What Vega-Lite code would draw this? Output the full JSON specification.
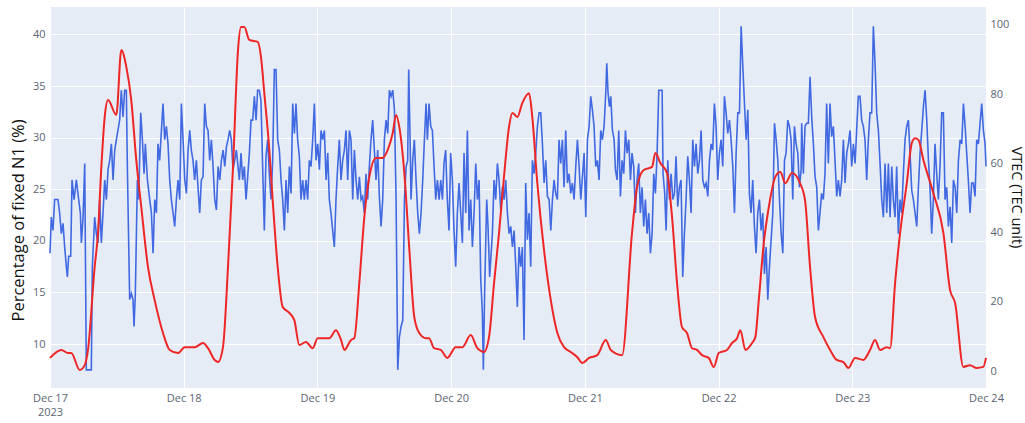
{
"$schema": "https://vega.github.io/schema/vega-lite/v6.json",
"width": 936, "height": 381,
"autosize": {"type": "none"},
"padding": {"left": 50, "top": 7, "right": 39, "bottom": 35},
"background": "white",
"config": {
 "view": {"stroke": null, "fill": "#E5ECF6"},
 "axis": {"domain": false, "ticks": false, "gridColor": "white", "gridWidth": 1, "labelFont": "Open Sans", "labelFontSize": 11, "labelColor": "#5b6472", "titleFont": "Open Sans", "titleFontWeight": "normal", "titleColor": "#111111"}
},
"datasets": {
"pct": [
{"t":"2023-12-17T00:00","v":18.8},{"t":"2023-12-17T00:14","v":22.3},{"t":"2023-12-17T00:32","v":21.0},{"t":"2023-12-17T00:50","v":24.0},{"t":"2023-12-17T01:26","v":24.0},{"t":"2023-12-17T01:44","v":22.7},{"t":"2023-12-17T02:02","v":20.7},{"t":"2023-12-17T02:20","v":21.7},{"t":"2023-12-17T02:38","v":19.4},{"t":"2023-12-17T02:56","v":17.5},{"t":"2023-12-17T03:07","v":16.5},{"t":"2023-12-17T03:21","v":18.5},{"t":"2023-12-17T03:43","v":18.5},{"t":"2023-12-17T03:57","v":25.9},{"t":"2023-12-17T04:19","v":24.0},{"t":"2023-12-17T04:44","v":25.9},{"t":"2023-12-17T05:09","v":24.0},{"t":"2023-12-17T05:27","v":22.7},{"t":"2023-12-17T05:38","v":19.8},{"t":"2023-12-17T05:56","v":22.3},{"t":"2023-12-17T06:14","v":27.5},{"t":"2023-12-17T06:31","v":7.5},{"t":"2023-12-17T07:25","v":7.5},{"t":"2023-12-17T07:36","v":17.5},{"t":"2023-12-17T08:01","v":22.3},{"t":"2023-12-17T08:19","v":20.7},{"t":"2023-12-17T08:37","v":19.8},{"t":"2023-12-17T08:55","v":24.0},{"t":"2023-12-17T09:13","v":19.8},{"t":"2023-12-17T09:31","v":22.7},{"t":"2023-12-17T09:49","v":25.9},{"t":"2023-12-17T10:07","v":24.0},{"t":"2023-12-17T10:25","v":26.9},{"t":"2023-12-17T10:43","v":27.8},{"t":"2023-12-17T11:01","v":29.4},{"t":"2023-12-17T11:19","v":25.9},{"t":"2023-12-17T11:37","v":28.8},{"t":"2023-12-17T11:55","v":29.8},{"t":"2023-12-17T12:30","v":31.7},{"t":"2023-12-17T12:48","v":34.6},{"t":"2023-12-17T13:06","v":32.0},{"t":"2023-12-17T13:24","v":34.6},{"t":"2023-12-17T13:42","v":34.6},{"t":"2023-12-17T13:53","v":27.2},{"t":"2023-12-17T14:18","v":14.3},{"t":"2023-12-17T14:36","v":14.9},{"t":"2023-12-17T14:54","v":14.3},{"t":"2023-12-17T15:05","v":11.7},{"t":"2023-12-17T15:19","v":14.9},{"t":"2023-12-17T15:41","v":25.9},{"t":"2023-12-17T15:55","v":24.0},{"t":"2023-12-17T16:17","v":32.4},{"t":"2023-12-17T16:35","v":29.8},{"t":"2023-12-17T16:53","v":26.5},{"t":"2023-12-17T17:07","v":29.4},{"t":"2023-12-17T17:29","v":25.9},{"t":"2023-12-17T17:54","v":24.0},{"t":"2023-12-17T18:12","v":22.7},{"t":"2023-12-17T18:30","v":18.8},{"t":"2023-12-17T18:48","v":24.0},{"t":"2023-12-17T19:06","v":22.7},{"t":"2023-12-17T19:23","v":29.4},{"t":"2023-12-17T19:41","v":27.8},{"t":"2023-12-17T20:17","v":33.3},{"t":"2023-12-17T20:35","v":29.8},{"t":"2023-12-17T20:53","v":31.1},{"t":"2023-12-17T21:11","v":29.4},{"t":"2023-12-17T21:29","v":25.9},{"t":"2023-12-17T21:47","v":24.0},{"t":"2023-12-17T22:05","v":22.7},{"t":"2023-12-17T22:23","v":21.4},{"t":"2023-12-17T22:41","v":24.0},{"t":"2023-12-17T22:59","v":25.9},{"t":"2023-12-17T23:17","v":24.0},{"t":"2023-12-17T23:35","v":33.3},{"t":"2023-12-17T23:53","v":29.8},
{"t":"2023-12-18T00:11","v":25.9},{"t":"2023-12-18T00:29","v":24.6},{"t":"2023-12-18T00:47","v":28.8},{"t":"2023-12-18T01:05","v":30.7},{"t":"2023-12-18T01:22","v":28.8},{"t":"2023-12-18T01:40","v":27.8},{"t":"2023-12-18T01:58","v":25.9},{"t":"2023-12-18T02:16","v":27.8},{"t":"2023-12-18T02:34","v":25.2},{"t":"2023-12-18T02:52","v":22.7},{"t":"2023-12-18T03:10","v":25.9},{"t":"2023-12-18T03:28","v":26.2},{"t":"2023-12-18T03:46","v":33.3},{"t":"2023-12-18T04:04","v":31.1},{"t":"2023-12-18T04:22","v":30.7},{"t":"2023-12-18T04:40","v":27.8},{"t":"2023-12-18T04:58","v":29.8},{"t":"2023-12-18T05:16","v":27.2},{"t":"2023-12-18T05:34","v":24.0},{"t":"2023-12-18T05:52","v":23.0},{"t":"2023-12-18T06:10","v":27.2},{"t":"2023-12-18T06:28","v":25.9},{"t":"2023-12-18T06:46","v":27.8},{"t":"2023-12-18T07:04","v":28.8},{"t":"2023-12-18T07:22","v":27.2},{"t":"2023-12-18T07:40","v":29.1},{"t":"2023-12-18T07:57","v":29.8},{"t":"2023-12-18T08:15","v":30.7},{"t":"2023-12-18T08:33","v":29.8},{"t":"2023-12-18T08:51","v":26.9},{"t":"2023-12-18T09:09","v":27.8},{"t":"2023-12-18T09:27","v":28.8},{"t":"2023-12-18T09:41","v":27.5},{"t":"2023-12-18T09:59","v":25.9},{"t":"2023-12-18T10:17","v":28.5},{"t":"2023-12-18T10:35","v":25.9},{"t":"2023-12-18T10:53","v":27.2},{"t":"2023-12-18T11:11","v":24.0},{"t":"2023-12-18T11:29","v":26.2},{"t":"2023-12-18T11:47","v":28.5},{"t":"2023-12-18T12:05","v":31.7},{"t":"2023-12-18T12:23","v":31.7},{"t":"2023-12-18T12:41","v":34.0},{"t":"2023-12-18T12:59","v":31.7},{"t":"2023-12-18T13:16","v":34.6},{"t":"2023-12-18T13:34","v":34.6},{"t":"2023-12-18T13:52","v":33.6},{"t":"2023-12-18T14:10","v":27.2},{"t":"2023-12-18T14:28","v":21.0},{"t":"2023-12-18T14:46","v":28.2},{"t":"2023-12-18T15:04","v":29.8},{"t":"2023-12-18T15:22","v":26.5},{"t":"2023-12-18T15:40","v":24.0},{"t":"2023-12-18T15:58","v":27.8},{"t":"2023-12-18T16:16","v":36.6},{"t":"2023-12-18T16:34","v":36.6},{"t":"2023-12-18T16:52","v":29.8},{"t":"2023-12-18T17:10","v":28.8},{"t":"2023-12-18T17:28","v":25.9},{"t":"2023-12-18T17:46","v":24.0},{"t":"2023-12-18T18:04","v":21.0},{"t":"2023-12-18T18:22","v":25.9},{"t":"2023-12-18T18:40","v":22.7},{"t":"2023-12-18T18:58","v":27.2},{"t":"2023-12-18T19:16","v":24.6},{"t":"2023-12-18T19:34","v":33.3},{"t":"2023-12-18T19:52","v":30.4},{"t":"2023-12-18T20:09","v":33.3},{"t":"2023-12-18T20:27","v":29.8},{"t":"2023-12-18T20:45","v":28.2},{"t":"2023-12-18T21:03","v":24.0},{"t":"2023-12-18T21:21","v":25.9},{"t":"2023-12-18T21:39","v":24.0},{"t":"2023-12-18T21:57","v":25.9},{"t":"2023-12-18T22:15","v":24.0},{"t":"2023-12-18T22:33","v":27.8},{"t":"2023-12-18T22:51","v":27.2},{"t":"2023-12-18T23:09","v":29.8},{"t":"2023-12-18T23:27","v":33.3},{"t":"2023-12-18T23:45","v":27.8},
{"t":"2023-12-19T00:03","v":29.4},{"t":"2023-12-19T00:21","v":26.9},{"t":"2023-12-19T00:39","v":30.7},{"t":"2023-12-19T00:57","v":29.8},{"t":"2023-12-19T01:15","v":30.7},{"t":"2023-12-19T01:33","v":25.9},{"t":"2023-12-19T01:51","v":28.5},{"t":"2023-12-19T02:08","v":24.0},{"t":"2023-12-19T02:26","v":22.7},{"t":"2023-12-19T02:44","v":21.0},{"t":"2023-12-19T03:02","v":19.4},{"t":"2023-12-19T03:20","v":24.0},{"t":"2023-12-19T03:38","v":27.2},{"t":"2023-12-19T03:56","v":29.8},{"t":"2023-12-19T04:14","v":25.9},{"t":"2023-12-19T04:32","v":27.8},{"t":"2023-12-19T04:50","v":28.8},{"t":"2023-12-19T05:08","v":30.7},{"t":"2023-12-19T05:26","v":25.9},{"t":"2023-12-19T05:44","v":30.7},{"t":"2023-12-19T06:02","v":29.8},{"t":"2023-12-19T06:20","v":24.0},{"t":"2023-12-19T06:38","v":28.8},{"t":"2023-12-19T06:56","v":25.9},{"t":"2023-12-19T07:14","v":24.0},{"t":"2023-12-19T07:32","v":26.2},{"t":"2023-12-19T07:50","v":24.0},{"t":"2023-12-19T08:07","v":24.3},{"t":"2023-12-19T08:25","v":22.7},{"t":"2023-12-19T08:43","v":26.5},{"t":"2023-12-19T09:01","v":24.0},{"t":"2023-12-19T09:19","v":27.2},{"t":"2023-12-19T09:37","v":29.8},{"t":"2023-12-19T09:55","v":31.7},{"t":"2023-12-19T10:13","v":28.8},{"t":"2023-12-19T10:31","v":25.9},{"t":"2023-12-19T10:49","v":28.8},{"t":"2023-12-19T11:07","v":24.3},{"t":"2023-12-19T11:25","v":21.4},{"t":"2023-12-19T11:43","v":24.0},{"t":"2023-12-19T12:01","v":29.8},{"t":"2023-12-19T12:19","v":31.7},{"t":"2023-12-19T12:37","v":30.4},{"t":"2023-12-19T12:55","v":34.6},{"t":"2023-12-19T13:13","v":34.0},{"t":"2023-12-19T13:31","v":34.6},{"t":"2023-12-19T13:49","v":32.7},{"t":"2023-12-19T14:07","v":24.0},{"t":"2023-12-19T14:25","v":7.5},{"t":"2023-12-19T14:43","v":10.7},{"t":"2023-12-19T15:01","v":11.7},{"t":"2023-12-19T15:19","v":12.3},{"t":"2023-12-19T15:37","v":24.0},{"t":"2023-12-19T15:55","v":27.2},{"t":"2023-12-19T16:12","v":27.8},{"t":"2023-12-19T16:23","v":36.6},{"t":"2023-12-19T16:38","v":29.8},{"t":"2023-12-19T16:48","v":24.0},{"t":"2023-12-19T17:06","v":27.8},{"t":"2023-12-19T17:24","v":29.8},{"t":"2023-12-19T17:42","v":25.9},{"t":"2023-12-19T18:00","v":22.7},{"t":"2023-12-19T18:18","v":20.7},{"t":"2023-12-19T18:36","v":22.7},{"t":"2023-12-19T18:54","v":25.9},{"t":"2023-12-19T19:12","v":29.8},{"t":"2023-12-19T19:30","v":33.3},{"t":"2023-12-19T19:44","v":29.8},{"t":"2023-12-19T20:02","v":33.3},{"t":"2023-12-19T20:20","v":31.1},{"t":"2023-12-19T20:38","v":30.7},{"t":"2023-12-19T20:56","v":27.2},{"t":"2023-12-19T21:14","v":24.0},{"t":"2023-12-19T21:32","v":25.9},{"t":"2023-12-19T21:50","v":24.0},{"t":"2023-12-19T22:08","v":25.9},{"t":"2023-12-19T22:26","v":24.0},{"t":"2023-12-19T22:43","v":27.5},{"t":"2023-12-19T23:01","v":28.8},{"t":"2023-12-19T23:19","v":24.0},{"t":"2023-12-19T23:37","v":21.0},{"t":"2023-12-19T23:55","v":28.5},
{"t":"2023-12-20T00:13","v":25.9},{"t":"2023-12-20T00:31","v":21.0},{"t":"2023-12-20T00:49","v":17.5},{"t":"2023-12-20T01:07","v":22.7},{"t":"2023-12-20T01:25","v":25.6},{"t":"2023-12-20T01:43","v":22.7},{"t":"2023-12-20T02:01","v":19.8},{"t":"2023-12-20T02:19","v":28.5},{"t":"2023-12-20T02:37","v":22.7},{"t":"2023-12-20T02:55","v":30.7},{"t":"2023-12-20T03:13","v":21.0},{"t":"2023-12-20T03:31","v":24.0},{"t":"2023-12-20T03:49","v":19.4},{"t":"2023-12-20T04:07","v":22.7},{"t":"2023-12-20T04:25","v":27.5},{"t":"2023-12-20T04:43","v":24.0},{"t":"2023-12-20T05:01","v":25.9},{"t":"2023-12-20T05:18","v":16.5},{"t":"2023-12-20T05:36","v":13.0},{"t":"2023-12-20T05:47","v":7.5},{"t":"2023-12-20T06:02","v":15.6},{"t":"2023-12-20T06:23","v":24.0},{"t":"2023-12-20T06:37","v":21.4},{"t":"2023-12-20T06:55","v":16.5},{"t":"2023-12-20T07:24","v":20.7},{"t":"2023-12-20T07:42","v":25.9},{"t":"2023-12-20T08:00","v":24.0},{"t":"2023-12-20T08:18","v":27.5},{"t":"2023-12-20T08:36","v":25.9},{"t":"2023-12-20T08:54","v":23.0},{"t":"2023-12-20T09:12","v":25.2},{"t":"2023-12-20T09:30","v":24.0},{"t":"2023-12-20T09:48","v":25.9},{"t":"2023-12-20T10:06","v":22.7},{"t":"2023-12-20T10:24","v":20.7},{"t":"2023-12-20T10:42","v":21.4},{"t":"2023-12-20T11:00","v":19.4},{"t":"2023-12-20T11:18","v":21.0},{"t":"2023-12-20T11:36","v":17.5},{"t":"2023-12-20T11:53","v":13.6},{"t":"2023-12-20T12:11","v":19.4},{"t":"2023-12-20T12:29","v":17.5},{"t":"2023-12-20T12:47","v":19.4},{"t":"2023-12-20T13:05","v":10.4},{"t":"2023-12-20T13:23","v":25.6},{"t":"2023-12-20T13:41","v":20.1},{"t":"2023-12-20T13:59","v":22.7},{"t":"2023-12-20T14:17","v":17.5},{"t":"2023-12-20T14:35","v":27.8},{"t":"2023-12-20T14:53","v":26.5},{"t":"2023-12-20T15:11","v":28.5},{"t":"2023-12-20T15:29","v":31.1},{"t":"2023-12-20T15:47","v":32.4},{"t":"2023-12-20T16:05","v":32.4},{"t":"2023-12-20T16:23","v":29.4},{"t":"2023-12-20T16:41","v":25.6},{"t":"2023-12-20T16:59","v":27.8},{"t":"2023-12-20T17:17","v":24.3},{"t":"2023-12-20T17:35","v":24.0},{"t":"2023-12-20T17:53","v":21.0},{"t":"2023-12-20T18:11","v":24.0},{"t":"2023-12-20T18:28","v":25.9},{"t":"2023-12-20T18:46","v":24.6},{"t":"2023-12-20T19:04","v":24.0},{"t":"2023-12-20T19:22","v":29.8},{"t":"2023-12-20T19:40","v":27.5},{"t":"2023-12-20T19:58","v":29.8},{"t":"2023-12-20T20:16","v":25.2},{"t":"2023-12-20T20:34","v":30.7},{"t":"2023-12-20T20:52","v":25.6},{"t":"2023-12-20T21:10","v":26.5},{"t":"2023-12-20T21:28","v":24.6},{"t":"2023-12-20T21:46","v":25.6},{"t":"2023-12-20T22:04","v":24.0},{"t":"2023-12-20T22:22","v":27.2},{"t":"2023-12-20T22:40","v":29.8},{"t":"2023-12-20T22:58","v":27.2},{"t":"2023-12-20T23:16","v":24.0},{"t":"2023-12-20T23:34","v":26.2},{"t":"2023-12-20T23:52","v":28.5},
{"t":"2023-12-21T00:10","v":22.3},{"t":"2023-12-21T00:28","v":29.8},{"t":"2023-12-21T00:46","v":31.1},{"t":"2023-12-21T01:03","v":34.0},{"t":"2023-12-21T01:21","v":32.7},{"t":"2023-12-21T01:39","v":31.1},{"t":"2023-12-21T01:57","v":27.2},{"t":"2023-12-21T02:15","v":27.8},{"t":"2023-12-21T02:33","v":25.9},{"t":"2023-12-21T02:51","v":30.7},{"t":"2023-12-21T03:09","v":29.8},{"t":"2023-12-21T03:27","v":31.1},{"t":"2023-12-21T03:45","v":34.3},{"t":"2023-12-21T03:56","v":37.2},{"t":"2023-12-21T04:10","v":34.3},{"t":"2023-12-21T04:25","v":33.0},{"t":"2023-12-21T04:39","v":34.0},{"t":"2023-12-21T04:57","v":30.7},{"t":"2023-12-21T05:15","v":29.8},{"t":"2023-12-21T05:29","v":26.9},{"t":"2023-12-21T05:47","v":25.9},{"t":"2023-12-21T06:05","v":30.7},{"t":"2023-12-21T06:23","v":24.3},{"t":"2023-12-21T06:41","v":27.8},{"t":"2023-12-21T06:59","v":26.5},{"t":"2023-12-21T07:17","v":30.7},{"t":"2023-12-21T07:35","v":28.5},{"t":"2023-12-21T07:53","v":29.8},{"t":"2023-12-21T08:11","v":25.9},{"t":"2023-12-21T08:28","v":28.5},{"t":"2023-12-21T08:46","v":27.2},{"t":"2023-12-21T09:04","v":22.7},{"t":"2023-12-21T09:22","v":25.9},{"t":"2023-12-21T09:40","v":27.5},{"t":"2023-12-21T09:58","v":22.7},{"t":"2023-12-21T10:16","v":25.2},{"t":"2023-12-21T10:34","v":21.4},{"t":"2023-12-21T10:52","v":24.0},{"t":"2023-12-21T11:10","v":20.7},{"t":"2023-12-21T11:28","v":22.7},{"t":"2023-12-21T11:46","v":18.8},{"t":"2023-12-21T12:04","v":20.7},{"t":"2023-12-21T12:22","v":26.5},{"t":"2023-12-21T12:40","v":24.6},{"t":"2023-12-21T12:58","v":28.5},{"t":"2023-12-21T13:16","v":34.6},{"t":"2023-12-21T13:34","v":34.6},{"t":"2023-12-21T13:52","v":34.6},{"t":"2023-12-21T14:02","v":26.5},{"t":"2023-12-21T14:20","v":24.6},{"t":"2023-12-21T14:35","v":21.0},{"t":"2023-12-21T14:53","v":27.8},{"t":"2023-12-21T15:11","v":24.0},{"t":"2023-12-21T15:29","v":26.5},{"t":"2023-12-21T15:47","v":24.0},{"t":"2023-12-21T16:05","v":24.6},{"t":"2023-12-21T16:22","v":28.2},{"t":"2023-12-21T16:40","v":23.3},{"t":"2023-12-21T16:58","v":25.2},{"t":"2023-12-21T17:16","v":25.9},{"t":"2023-12-21T17:34","v":16.5},{"t":"2023-12-21T17:52","v":20.7},{"t":"2023-12-21T18:10","v":24.0},{"t":"2023-12-21T18:28","v":28.2},{"t":"2023-12-21T18:46","v":25.9},{"t":"2023-12-21T19:04","v":22.7},{"t":"2023-12-21T19:22","v":29.8},{"t":"2023-12-21T19:40","v":27.2},{"t":"2023-12-21T19:58","v":29.4},{"t":"2023-12-21T20:16","v":26.5},{"t":"2023-12-21T20:34","v":27.8},{"t":"2023-12-21T20:52","v":30.7},{"t":"2023-12-21T21:10","v":25.9},{"t":"2023-12-21T21:28","v":25.2},{"t":"2023-12-21T21:46","v":25.6},{"t":"2023-12-21T22:04","v":24.3},{"t":"2023-12-21T22:22","v":27.8},{"t":"2023-12-21T22:40","v":29.4},{"t":"2023-12-21T22:57","v":28.8},{"t":"2023-12-21T23:15","v":33.3},{"t":"2023-12-21T23:33","v":31.1},{"t":"2023-12-21T23:51","v":25.9},
{"t":"2023-12-22T00:09","v":28.5},{"t":"2023-12-22T00:27","v":29.8},{"t":"2023-12-22T00:45","v":27.2},{"t":"2023-12-22T01:03","v":34.0},{"t":"2023-12-22T01:21","v":32.4},{"t":"2023-12-22T01:39","v":30.4},{"t":"2023-12-22T01:57","v":31.7},{"t":"2023-12-22T02:15","v":29.8},{"t":"2023-12-22T02:33","v":27.2},{"t":"2023-12-22T02:51","v":22.7},{"t":"2023-12-22T03:09","v":28.5},{"t":"2023-12-22T03:27","v":32.4},{"t":"2023-12-22T03:45","v":32.4},{"t":"2023-12-22T04:03","v":40.8},{"t":"2023-12-22T04:21","v":36.9},{"t":"2023-12-22T04:39","v":33.3},{"t":"2023-12-22T04:57","v":29.8},{"t":"2023-12-22T05:15","v":32.7},{"t":"2023-12-22T05:32","v":24.6},{"t":"2023-12-22T05:50","v":22.7},{"t":"2023-12-22T06:08","v":25.9},{"t":"2023-12-22T06:26","v":21.4},{"t":"2023-12-22T06:44","v":18.8},{"t":"2023-12-22T07:02","v":22.7},{"t":"2023-12-22T07:20","v":24.0},{"t":"2023-12-22T07:38","v":21.0},{"t":"2023-12-22T07:56","v":22.7},{"t":"2023-12-22T08:14","v":16.8},{"t":"2023-12-22T08:32","v":19.4},{"t":"2023-12-22T08:50","v":14.3},{"t":"2023-12-22T09:08","v":17.5},{"t":"2023-12-22T09:26","v":20.1},{"t":"2023-12-22T09:44","v":22.7},{"t":"2023-12-22T10:02","v":31.4},{"t":"2023-12-22T10:20","v":29.8},{"t":"2023-12-22T10:38","v":27.8},{"t":"2023-12-22T10:56","v":24.0},{"t":"2023-12-22T11:14","v":20.7},{"t":"2023-12-22T11:32","v":18.8},{"t":"2023-12-22T11:50","v":27.8},{"t":"2023-12-22T12:07","v":28.5},{"t":"2023-12-22T12:25","v":31.7},{"t":"2023-12-22T12:43","v":31.1},{"t":"2023-12-22T13:01","v":29.8},{"t":"2023-12-22T13:19","v":24.0},{"t":"2023-12-22T13:37","v":31.1},{"t":"2023-12-22T13:55","v":29.4},{"t":"2023-12-22T14:13","v":28.5},{"t":"2023-12-22T14:31","v":25.2},{"t":"2023-12-22T14:49","v":26.9},{"t":"2023-12-22T14:55","v":31.4},{"t":"2023-12-22T15:13","v":26.5},{"t":"2023-12-22T15:31","v":31.1},{"t":"2023-12-22T15:49","v":31.4},{"t":"2023-12-22T16:07","v":31.4},{"t":"2023-12-22T16:25","v":35.9},{"t":"2023-12-22T16:43","v":32.0},{"t":"2023-12-22T17:01","v":29.4},{"t":"2023-12-22T17:19","v":26.2},{"t":"2023-12-22T17:37","v":25.2},{"t":"2023-12-22T17:55","v":21.0},{"t":"2023-12-22T18:12","v":22.7},{"t":"2023-12-22T18:30","v":24.6},{"t":"2023-12-22T18:48","v":24.0},{"t":"2023-12-22T19:06","v":26.5},{"t":"2023-12-22T19:24","v":33.3},{"t":"2023-12-22T19:42","v":27.5},{"t":"2023-12-22T20:00","v":33.3},{"t":"2023-12-22T20:18","v":30.1},{"t":"2023-12-22T20:36","v":31.1},{"t":"2023-12-22T20:54","v":27.8},{"t":"2023-12-22T21:12","v":24.3},{"t":"2023-12-22T21:30","v":25.9},{"t":"2023-12-22T21:48","v":24.3},{"t":"2023-12-22T22:06","v":25.9},{"t":"2023-12-22T22:24","v":29.8},{"t":"2023-12-22T22:42","v":25.6},{"t":"2023-12-22T23:00","v":28.5},{"t":"2023-12-22T23:18","v":29.4},{"t":"2023-12-22T23:36","v":30.7},{"t":"2023-12-22T23:54","v":27.2},
{"t":"2023-12-23T00:12","v":29.4},{"t":"2023-12-23T00:30","v":27.5},{"t":"2023-12-23T00:47","v":30.7},{"t":"2023-12-23T01:05","v":34.0},{"t":"2023-12-23T01:23","v":34.0},{"t":"2023-12-23T01:41","v":31.7},{"t":"2023-12-23T01:59","v":31.1},{"t":"2023-12-23T02:17","v":29.8},{"t":"2023-12-23T02:35","v":25.9},{"t":"2023-12-23T02:53","v":29.8},{"t":"2023-12-23T03:11","v":32.4},{"t":"2023-12-23T03:29","v":32.4},{"t":"2023-12-23T03:47","v":40.8},{"t":"2023-12-23T04:05","v":37.2},{"t":"2023-12-23T04:23","v":32.4},{"t":"2023-12-23T04:41","v":30.7},{"t":"2023-12-23T04:59","v":27.5},{"t":"2023-12-23T05:17","v":24.0},{"t":"2023-12-23T05:35","v":22.3},{"t":"2023-12-23T05:53","v":27.5},{"t":"2023-12-23T06:11","v":22.7},{"t":"2023-12-23T06:29","v":27.5},{"t":"2023-12-23T06:47","v":22.3},{"t":"2023-12-23T07:05","v":27.2},{"t":"2023-12-23T07:22","v":24.0},{"t":"2023-12-23T07:40","v":22.3},{"t":"2023-12-23T07:58","v":27.2},{"t":"2023-12-23T08:16","v":20.7},{"t":"2023-12-23T08:34","v":24.0},{"t":"2023-12-23T08:52","v":22.7},{"t":"2023-12-23T09:10","v":26.5},{"t":"2023-12-23T09:28","v":29.8},{"t":"2023-12-23T09:46","v":31.1},{"t":"2023-12-23T10:04","v":31.7},{"t":"2023-12-23T10:22","v":28.5},{"t":"2023-12-23T10:40","v":24.9},{"t":"2023-12-23T10:58","v":24.0},{"t":"2023-12-23T11:16","v":22.7},{"t":"2023-12-23T11:34","v":21.4},{"t":"2023-12-23T11:52","v":25.2},{"t":"2023-12-23T12:10","v":28.5},{"t":"2023-12-23T12:28","v":30.7},{"t":"2023-12-23T12:46","v":33.0},{"t":"2023-12-23T13:04","v":34.6},{"t":"2023-12-23T13:22","v":31.7},{"t":"2023-12-23T13:40","v":27.8},{"t":"2023-12-23T13:57","v":25.2},{"t":"2023-12-23T14:15","v":20.7},{"t":"2023-12-23T14:33","v":24.0},{"t":"2023-12-23T14:51","v":29.4},{"t":"2023-12-23T15:09","v":26.5},{"t":"2023-12-23T15:27","v":24.0},{"t":"2023-12-23T15:45","v":27.2},{"t":"2023-12-23T16:03","v":32.4},{"t":"2023-12-23T16:21","v":32.4},{"t":"2023-12-23T16:39","v":24.0},{"t":"2023-12-23T16:57","v":25.2},{"t":"2023-12-23T17:15","v":21.4},{"t":"2023-12-23T17:33","v":23.3},{"t":"2023-12-23T17:51","v":19.8},{"t":"2023-12-23T18:09","v":25.9},{"t":"2023-12-23T18:27","v":25.2},{"t":"2023-12-23T18:45","v":22.7},{"t":"2023-12-23T19:03","v":27.8},{"t":"2023-12-23T19:21","v":29.8},{"t":"2023-12-23T19:39","v":29.4},{"t":"2023-12-23T19:57","v":33.3},{"t":"2023-12-23T20:15","v":31.1},{"t":"2023-12-23T20:32","v":28.5},{"t":"2023-12-23T20:50","v":25.9},{"t":"2023-12-23T21:08","v":22.7},{"t":"2023-12-23T21:26","v":25.6},{"t":"2023-12-23T21:44","v":25.6},{"t":"2023-12-23T22:02","v":24.3},{"t":"2023-12-23T22:20","v":29.8},{"t":"2023-12-23T22:38","v":29.4},{"t":"2023-12-23T22:56","v":31.4},{"t":"2023-12-23T23:14","v":33.3},{"t":"2023-12-23T23:32","v":30.7},{"t":"2023-12-23T23:50","v":29.4},{"t":"2023-12-24T00:00","v":27.2}
],
"vtec": [
{"t":"2023-12-17T00:00","v":3.8},{"t":"2023-12-17T02:02","v":6.1},{"t":"2023-12-17T03:14","v":5.2},{"t":"2023-12-17T03:49","v":5.2},{"t":"2023-12-17T05:20","v":0.3},{"t":"2023-12-17T06:14","v":1.7},{"t":"2023-12-17T06:49","v":6.1},{"t":"2023-12-17T08:01","v":30.1},{"t":"2023-12-17T08:37","v":39.9},{"t":"2023-12-17T09:13","v":59.0},{"t":"2023-12-17T09:49","v":73.4},{"t":"2023-12-17T10:25","v":78.3},{"t":"2023-12-17T11:54","v":74.0},{"t":"2023-12-17T12:48","v":92.8},{"t":"2023-12-17T13:42","v":87.9},{"t":"2023-12-17T14:35","v":78.3},{"t":"2023-12-17T15:29","v":61.0},{"t":"2023-12-17T16:23","v":47.4},{"t":"2023-12-17T17:35","v":30.1},{"t":"2023-12-17T18:47","v":20.5},{"t":"2023-12-17T20:17","v":11.0},{"t":"2023-12-17T21:29","v":6.1},{"t":"2023-12-17T22:59","v":5.2},
{"t":"2023-12-18T00:11","v":6.9},{"t":"2023-12-18T01:58","v":6.9},{"t":"2023-12-18T03:28","v":8.1},{"t":"2023-12-18T04:22","v":6.6},{"t":"2023-12-18T05:34","v":3.2},{"t":"2023-12-18T06:10","v":2.6},{"t":"2023-12-18T07:03","v":6.9},{"t":"2023-12-18T07:57","v":30.1},{"t":"2023-12-18T08:51","v":59.0},{"t":"2023-12-18T09:45","v":92.8},{"t":"2023-12-18T10:17","v":99.4},{"t":"2023-12-18T10:53","v":99.4},{"t":"2023-12-18T11:46","v":95.7},{"t":"2023-12-18T13:17","v":95.1},{"t":"2023-12-18T13:52","v":90.8},{"t":"2023-12-18T14:28","v":80.3},{"t":"2023-12-18T15:22","v":63.9},{"t":"2023-12-18T15:58","v":49.4},{"t":"2023-12-18T16:52","v":30.1},{"t":"2023-12-18T17:46","v":18.5},{"t":"2023-12-18T18:57","v":16.8},{"t":"2023-12-18T19:51","v":14.7},{"t":"2023-12-18T20:45","v":7.5},{"t":"2023-12-18T21:57","v":8.4},{"t":"2023-12-18T23:09","v":6.6},
{"t":"2023-12-19T00:03","v":9.5},{"t":"2023-12-19T02:08","v":9.5},{"t":"2023-12-19T03:20","v":11.8},{"t":"2023-12-19T04:14","v":9.0},{"t":"2023-12-19T04:50","v":6.1},{"t":"2023-12-19T06:02","v":9.0},{"t":"2023-12-19T06:37","v":9.5},{"t":"2023-12-19T07:31","v":25.4},{"t":"2023-12-19T08:25","v":44.5},{"t":"2023-12-19T09:19","v":56.1},{"t":"2023-12-19T10:31","v":61.6},{"t":"2023-12-19T11:43","v":61.6},{"t":"2023-12-19T12:37","v":63.9},{"t":"2023-12-19T13:31","v":68.8},{"t":"2023-12-19T14:07","v":74.0},{"t":"2023-12-19T14:42","v":70.5},{"t":"2023-12-19T15:36","v":57.2},{"t":"2023-12-19T16:30","v":35.0},{"t":"2023-12-19T17:23","v":15.6},{"t":"2023-12-19T18:17","v":11.0},{"t":"2023-12-19T19:29","v":9.5},{"t":"2023-12-19T20:02","v":9.5},{"t":"2023-12-19T20:56","v":6.6},{"t":"2023-12-19T22:08","v":6.1},{"t":"2023-12-19T23:19","v":3.8},
{"t":"2023-12-20T00:49","v":6.9},{"t":"2023-12-20T02:01","v":6.9},{"t":"2023-12-20T03:31","v":10.4},{"t":"2023-12-20T04:42","v":6.6},{"t":"2023-12-20T05:54","v":5.5},{"t":"2023-12-20T06:48","v":9.8},{"t":"2023-12-20T07:42","v":25.4},{"t":"2023-12-20T08:36","v":39.9},{"t":"2023-12-20T09:29","v":56.1},{"t":"2023-12-20T10:23","v":70.5},{"t":"2023-12-20T10:59","v":74.6},{"t":"2023-12-20T11:53","v":73.4},{"t":"2023-12-20T12:47","v":77.5},{"t":"2023-12-20T13:59","v":80.3},{"t":"2023-12-20T14:34","v":73.4},{"t":"2023-12-20T15:28","v":54.3},{"t":"2023-12-20T16:40","v":35.0},{"t":"2023-12-20T17:53","v":20.5},{"t":"2023-12-20T19:04","v":11.0},{"t":"2023-12-20T20:16","v":6.9},{"t":"2023-12-20T21:28","v":5.5},{"t":"2023-12-20T22:39","v":4.0},{"t":"2023-12-20T23:33","v":2.3},
{"t":"2023-12-21T00:45","v":3.8},{"t":"2023-12-21T02:14","v":4.6},{"t":"2023-12-21T03:45","v":9.0},{"t":"2023-12-21T04:39","v":6.1},{"t":"2023-12-21T06:41","v":4.6},{"t":"2023-12-21T08:28","v":39.9},{"t":"2023-12-21T09:22","v":53.2},{"t":"2023-12-21T10:34","v":58.1},{"t":"2023-12-21T12:04","v":59.0},{"t":"2023-12-21T12:39","v":63.0},{"t":"2023-12-21T13:33","v":60.1},{"t":"2023-12-21T14:45","v":57.2},{"t":"2023-12-21T15:39","v":44.5},{"t":"2023-12-21T16:33","v":25.4},{"t":"2023-12-21T17:26","v":12.7},{"t":"2023-12-21T18:20","v":11.0},{"t":"2023-12-21T19:14","v":6.6},{"t":"2023-12-21T20:08","v":6.1},{"t":"2023-12-21T21:02","v":4.6},{"t":"2023-12-21T22:14","v":3.8},{"t":"2023-12-21T23:08","v":1.2},
{"t":"2023-12-22T00:02","v":5.2},{"t":"2023-12-22T01:31","v":6.1},{"t":"2023-12-22T02:25","v":8.1},{"t":"2023-12-22T03:19","v":9.5},{"t":"2023-12-22T03:55","v":11.8},{"t":"2023-12-22T04:49","v":6.1},{"t":"2023-12-22T06:01","v":8.1},{"t":"2023-12-22T06:36","v":9.8},{"t":"2023-12-22T07:13","v":20.5},{"t":"2023-12-22T08:07","v":37.0},{"t":"2023-12-22T09:01","v":47.4},{"t":"2023-12-22T10:11","v":56.1},{"t":"2023-12-22T11:05","v":57.5},{"t":"2023-12-22T11:59","v":54.3},{"t":"2023-12-22T13:11","v":57.2},{"t":"2023-12-22T14:37","v":54.3},{"t":"2023-12-22T15:31","v":49.4},{"t":"2023-12-22T16:25","v":30.1},{"t":"2023-12-22T17:19","v":15.6},{"t":"2023-12-22T18:49","v":9.8},{"t":"2023-12-22T20:01","v":6.1},{"t":"2023-12-22T21:13","v":3.2},{"t":"2023-12-22T22:24","v":2.6},{"t":"2023-12-22T23:18","v":0.9},
{"t":"2023-12-23T00:30","v":3.8},{"t":"2023-12-23T01:59","v":3.2},{"t":"2023-12-23T03:11","v":6.1},{"t":"2023-12-23T04:05","v":9.0},{"t":"2023-12-23T04:59","v":6.1},{"t":"2023-12-23T06:11","v":6.9},{"t":"2023-12-23T06:47","v":6.6},{"t":"2023-12-23T07:41","v":25.4},{"t":"2023-12-23T08:35","v":39.9},{"t":"2023-12-23T09:47","v":54.3},{"t":"2023-12-23T10:41","v":65.9},{"t":"2023-12-23T11:16","v":67.3},{"t":"2023-12-23T11:52","v":66.8},{"t":"2023-12-23T12:46","v":61.0},{"t":"2023-12-23T14:33","v":51.4},{"t":"2023-12-23T16:21","v":39.9},{"t":"2023-12-23T17:33","v":23.4},{"t":"2023-12-23T18:27","v":19.7},{"t":"2023-12-23T19:56","v":1.2},{"t":"2023-12-23T21:08","v":1.7},{"t":"2023-12-23T22:20","v":0.9},{"t":"2023-12-23T23:31","v":1.2},{"t":"2023-12-24T00:00","v":3.8}
]
},
"layer": [
 {
  "data": {"name": "pct"},
  "mark": {"type": "line", "color": "#4169E1", "strokeWidth": 1.6},
  "encoding": {
   "x": {"field": "t", "type": "temporal", "scale": {"domain": [{"year": 2023, "month": 12, "date": 17}, {"year": 2023, "month": 12, "date": 24}]}, "axis": {"title": null, "grid": true, "tickCount": {"interval": "day", "step": 1}, "labelFlush": false, "labelPadding": 4, "labelLineHeight": 14, "labelExpr": "date(datum.value) == 17 ? [timeFormat(datum.value, '%b %d'), '2023'] : timeFormat(datum.value, '%b %d')"}},
   "y": {"field": "v", "type": "quantitative", "scale": {"domain": [5.74, 42.66], "nice": false, "zero": false}, "axis": {"orient": "left", "title": "Percentage of fixed N1 (%)", "values": [10, 15, 20, 25, 30, 35, 40], "labelPadding": 5, "titleFontSize": 16.5, "titleX": -31.5, "titleY": 213, "titleBaseline": "middle", "titleAlign": "center"}}
  }
 },
 {
  "data": {"name": "vtec"},
  "mark": {"type": "line", "color": "#EF2626", "strokeWidth": 2, "interpolate": "monotone"},
  "encoding": {
   "x": {"field": "t", "type": "temporal", "scale": {"domain": [{"year": 2023, "month": 12, "date": 17}, {"year": 2023, "month": 12, "date": 24}]}, "axis": {"title": null, "grid": true, "tickCount": {"interval": "day", "step": 1}, "labelFlush": false, "labelPadding": 4, "labelLineHeight": 14, "labelExpr": "date(datum.value) == 17 ? [timeFormat(datum.value, '%b %d'), '2023'] : timeFormat(datum.value, '%b %d')"}},
   "y": {"field": "v", "type": "quantitative", "scale": {"domain": [-4.9, 105.2], "nice": false, "zero": false}, "axis": {"orient": "right", "title": "VTEC (TEC unit)", "values": [0, 20, 40, 60, 80, 100], "labelPadding": 4, "titleFontSize": 14.5, "titleX": 29, "titleY": 190, "titleBaseline": "middle", "titleAlign": "center"}}
  }
 }
],
"resolve": {"scale": {"y": "independent"}}
}
